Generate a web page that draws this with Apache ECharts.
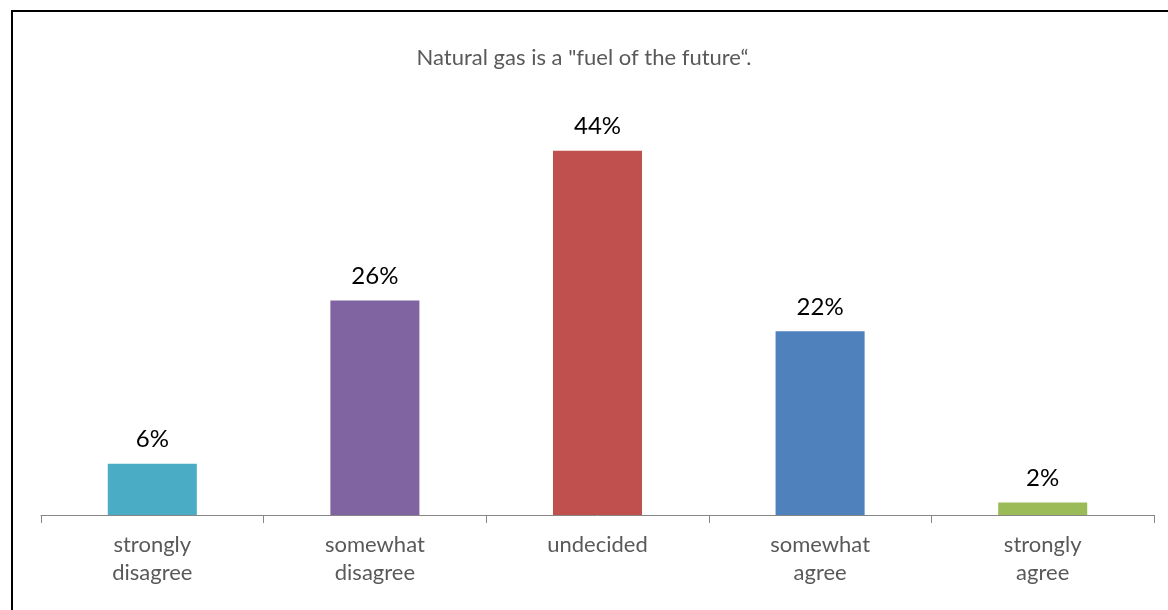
<!DOCTYPE html>
<html>
<head>
<meta charset="utf-8">
<script src="https://cdn.jsdelivr.net/npm/echarts@6/dist/echarts.min.js"></script>
<style>
html,body{margin:0;padding:0;background:#fff;}
#chart{width:1168px;height:610px;}
</style>
</head>
<body>
<div id="chart"></div>
<script>
const titleText = 'Natural gas is a "fuel of the future\u201C.';
const categories = ['strongly\ndisagree', 'somewhat\ndisagree', 'undecided', 'somewhat\nagree', 'strongly\nagree'];
const values = [6.2, 25.9, 44, 22.2, 1.5];
const colors = ['#4BACC6', '#8064A2', '#C0504D', '#4F81BD', '#9BBB59'];

const chart = echarts.init(document.getElementById('chart'));
chart.setOption({
  animation: false,
  backgroundColor: '#fff',
  title: {
    text: titleText,
    left: 'center',
    top: 42,
    textStyle: { fontFamily: 'Lato, "Open Sans", sans-serif', fontSize: 22, fontWeight: 'normal', color: '#595959' }
  },
  graphic: [{
    type: 'rect',
    shape: { x: 12, y: 11, width: 1200, height: 700 },
    style: { fill: 'none', stroke: '#000', lineWidth: 2 },
    silent: true
  }],
  grid: { left: 41, right: 14, top: 101, bottom: 95, containLabel: false },
  xAxis: {
    type: 'category',
    data: categories,
    axisLine: { lineStyle: { color: '#868686', width: 1 } },
    axisTick: { show: true, length: 8, alignWithLabel: false, lineStyle: { color: '#868686' } },
    axisLabel: { fontFamily: 'Lato, "Open Sans", sans-serif', fontSize: 22, color: '#595959', lineHeight: 28, margin: 16, interval: 0 }
  },
  yAxis: {
    type: 'value',
    min: 0,
    max: 50,
    show: false,
    splitLine: { show: false }
  },
  series: [{
    type: 'bar',
    barWidth: '40%',
    data: values.map((v, i) => ({ value: v, itemStyle: { color: colors[i] } })),
    label: {
      show: true,
      position: 'top',
      distance: 12,
      fontFamily: 'Lato, "Open Sans", sans-serif',
      fontSize: 24,
      color: '#000',
      formatter: p => Math.round(p.value) + '%'
    }
  }]
});
</script>
</body>
</html>
